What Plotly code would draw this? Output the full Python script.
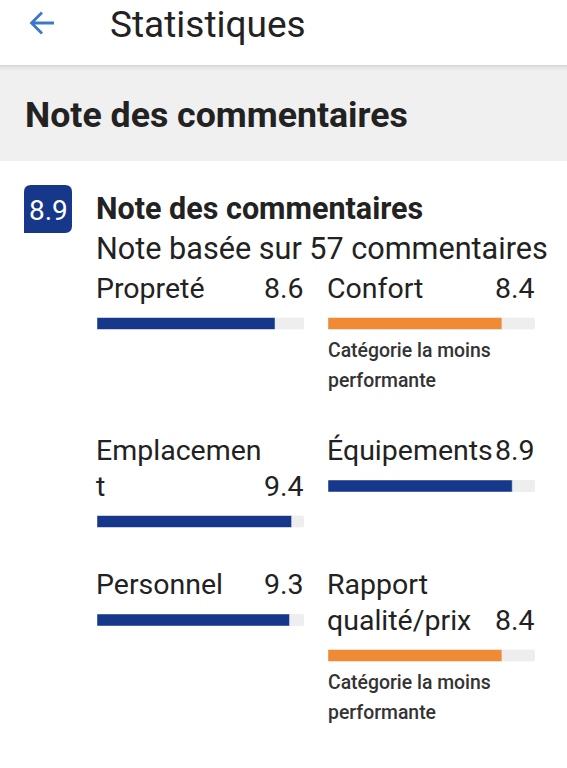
import plotly.graph_objects as go

# ---------------- data ----------------
overall_score = 8.9
review_count = 57
categories = ["Propreté", "Confort", "Emplacement", "Équipements", "Personnel", "Rapport qualité/prix"]
display_labels = ["Propreté", "Confort", "Emplacemen<br>t", "Équipements", "Personnel", "Rapport<br>qualité/prix"]
scores = [8.6, 8.4, 9.4, 8.9, 9.3, 8.4]
score_max = 10
weak_note = ["Catégorie la moins", "performante"]
page_title = "Statistiques"
section_title = "Note des commentaires"
sub_title = "Note des commentaires"
sub_text = f"Note basée sur {review_count} commentaires"

# ---------------- layout helpers ----------------
W, H = 567, 768
def px(x):
    return x / W
def py(y):
    return 1 - y / H

FONT = "Roboto"
TXT = "#222222"
NAVY = "#17378a"
ORANGE = "#f08a35"
TRACK = "#eeeeee"

col_x = [(97, 304), (328, 535), (97, 304), (328, 535), (97, 304), (328, 535)]
bar_cy = [323.5, 323.5, 521.5, 486, 620, 655.5]
bar_h = 12
label_gap = 35.5
line_gap = 35.5

lowest = min(scores)

fig = go.Figure()
annotations = []
shapes = []

# header background + shadow + gray band
shapes.append(dict(type="rect", xref="paper", yref="paper", x0=0, x1=1, y0=py(161), y1=py(65),
                   fillcolor="#f0f0f0", line_width=0, layer="below"))
for i, c in enumerate(["#d6d6d6", "#dedede", "#e4e4e4", "#e8e8e8", "#ebebeb", "#eeeeee"]):
    shapes.append(dict(type="rect", xref="paper", yref="paper", x0=0, x1=1,
                       y0=py(65 + i + 1), y1=py(65 + i), fillcolor=c, line_width=0, layer="below"))

# back arrow
arrow_col = "#3a78d0"
shapes.append(dict(type="path", xref="paper", yref="paper",
                   path=f"M {px(31)} {py(23)} L {px(54)} {py(23)} M {px(42)} {py(12.5)} L {px(31.5)} {py(23)} L {px(42)} {py(33.5)}",
                   line=dict(color=arrow_col, width=2.8)))

def text(t, x, y, size, anchor="left", color=TXT, weight="normal", shift=0):
    annotations.append(dict(text=t, x=px(x), y=py(y), xref="paper", yref="paper",
                            xanchor=anchor, yanchor="middle", showarrow=False, xshift=shift,
                            font=dict(family=FONT, size=size, color=color, weight=weight)))

text(page_title, 108, 24.5, 37)
text(section_title, 24, 115, 35.7, weight="bold", shift=-1)

# score badge (rounded except bottom-left)
bx0, bx1, by0, by1, r = 24, 72, 185, 233, 7
shapes.append(dict(type="path", xref="paper", yref="paper",
                   path=(f"M {px(bx0)} {py(by1)} L {px(bx0)} {py(by0 + r)} "
                         f"Q {px(bx0)} {py(by0)} {px(bx0 + r)} {py(by0)} "
                         f"L {px(bx1 - r)} {py(by0)} Q {px(bx1)} {py(by0)} {px(bx1)} {py(by0 + r)} "
                         f"L {px(bx1)} {py(by1 - r)} Q {px(bx1)} {py(by1)} {px(bx1 - r)} {py(by1)} Z"),
                   fillcolor=NAVY, line_width=0))
text(f"{overall_score}", 48, 211, 28, anchor="center", color="white")
text(sub_title, 96, 208.5, 30.5, weight="bold", shift=-2)
text(sub_text, 96, 248, 30.6, shift=-2)

# category bars
layout_axes = {}
for i, (cat, lab, val) in enumerate(zip(categories, display_labels, scores)):
    n = "" if i == 0 else str(i + 1)
    xa, ya = "x" + n, "y" + n
    x0, x1 = col_x[i]
    cy = bar_cy[i]
    color = ORANGE if val == lowest else NAVY
    fig.add_trace(go.Bar(x=[score_max], y=[cat], orientation="h", marker=dict(color=TRACK),
                         width=1, xaxis=xa, yaxis=ya, showlegend=False, hoverinfo="skip"))
    fig.add_trace(go.Bar(x=[val], y=[cat], orientation="h", marker=dict(color=color),
                         width=1, xaxis=xa, yaxis=ya, showlegend=False, name=cat))
    layout_axes["xaxis" + n] = dict(domain=[px(x0), px(x1)], range=[0, score_max], visible=False,
                                    fixedrange=True, anchor=ya)
    layout_axes["yaxis" + n] = dict(domain=[py(cy + bar_h / 2), py(cy - bar_h / 2)], visible=False,
                                    fixedrange=True, anchor=xa, range=[-0.5, 0.5])
    lines = lab.split("<br>")
    k = len(lines)
    for j, ln in enumerate(lines):
        ly = cy - label_gap - (k - 1 - j) * line_gap
        text(ln, x0, ly, 28.5, shift=-3)
    text(f"{val}", x1, cy - label_gap, 28.5, anchor="right", shift=2)
    if val == lowest:
        for j, ln in enumerate(weak_note):
            text(ln, x0, cy + 27 + 30 * j, 19.4, color="#333333", weight=500, shift=-2)

fig.update_layout(
    width=W, height=H,
    margin=dict(l=0, r=0, t=0, b=0),
    paper_bgcolor="white", plot_bgcolor="rgba(0,0,0,0)",
    barmode="overlay", barcornerradius=3,
    shapes=shapes, annotations=annotations,
    showlegend=False,
    **layout_axes,
)
fig.write_html("out.html", config={"displayModeBar": False},
               post_script="document.body.style.margin='0';document.body.style.overflow='hidden';")
